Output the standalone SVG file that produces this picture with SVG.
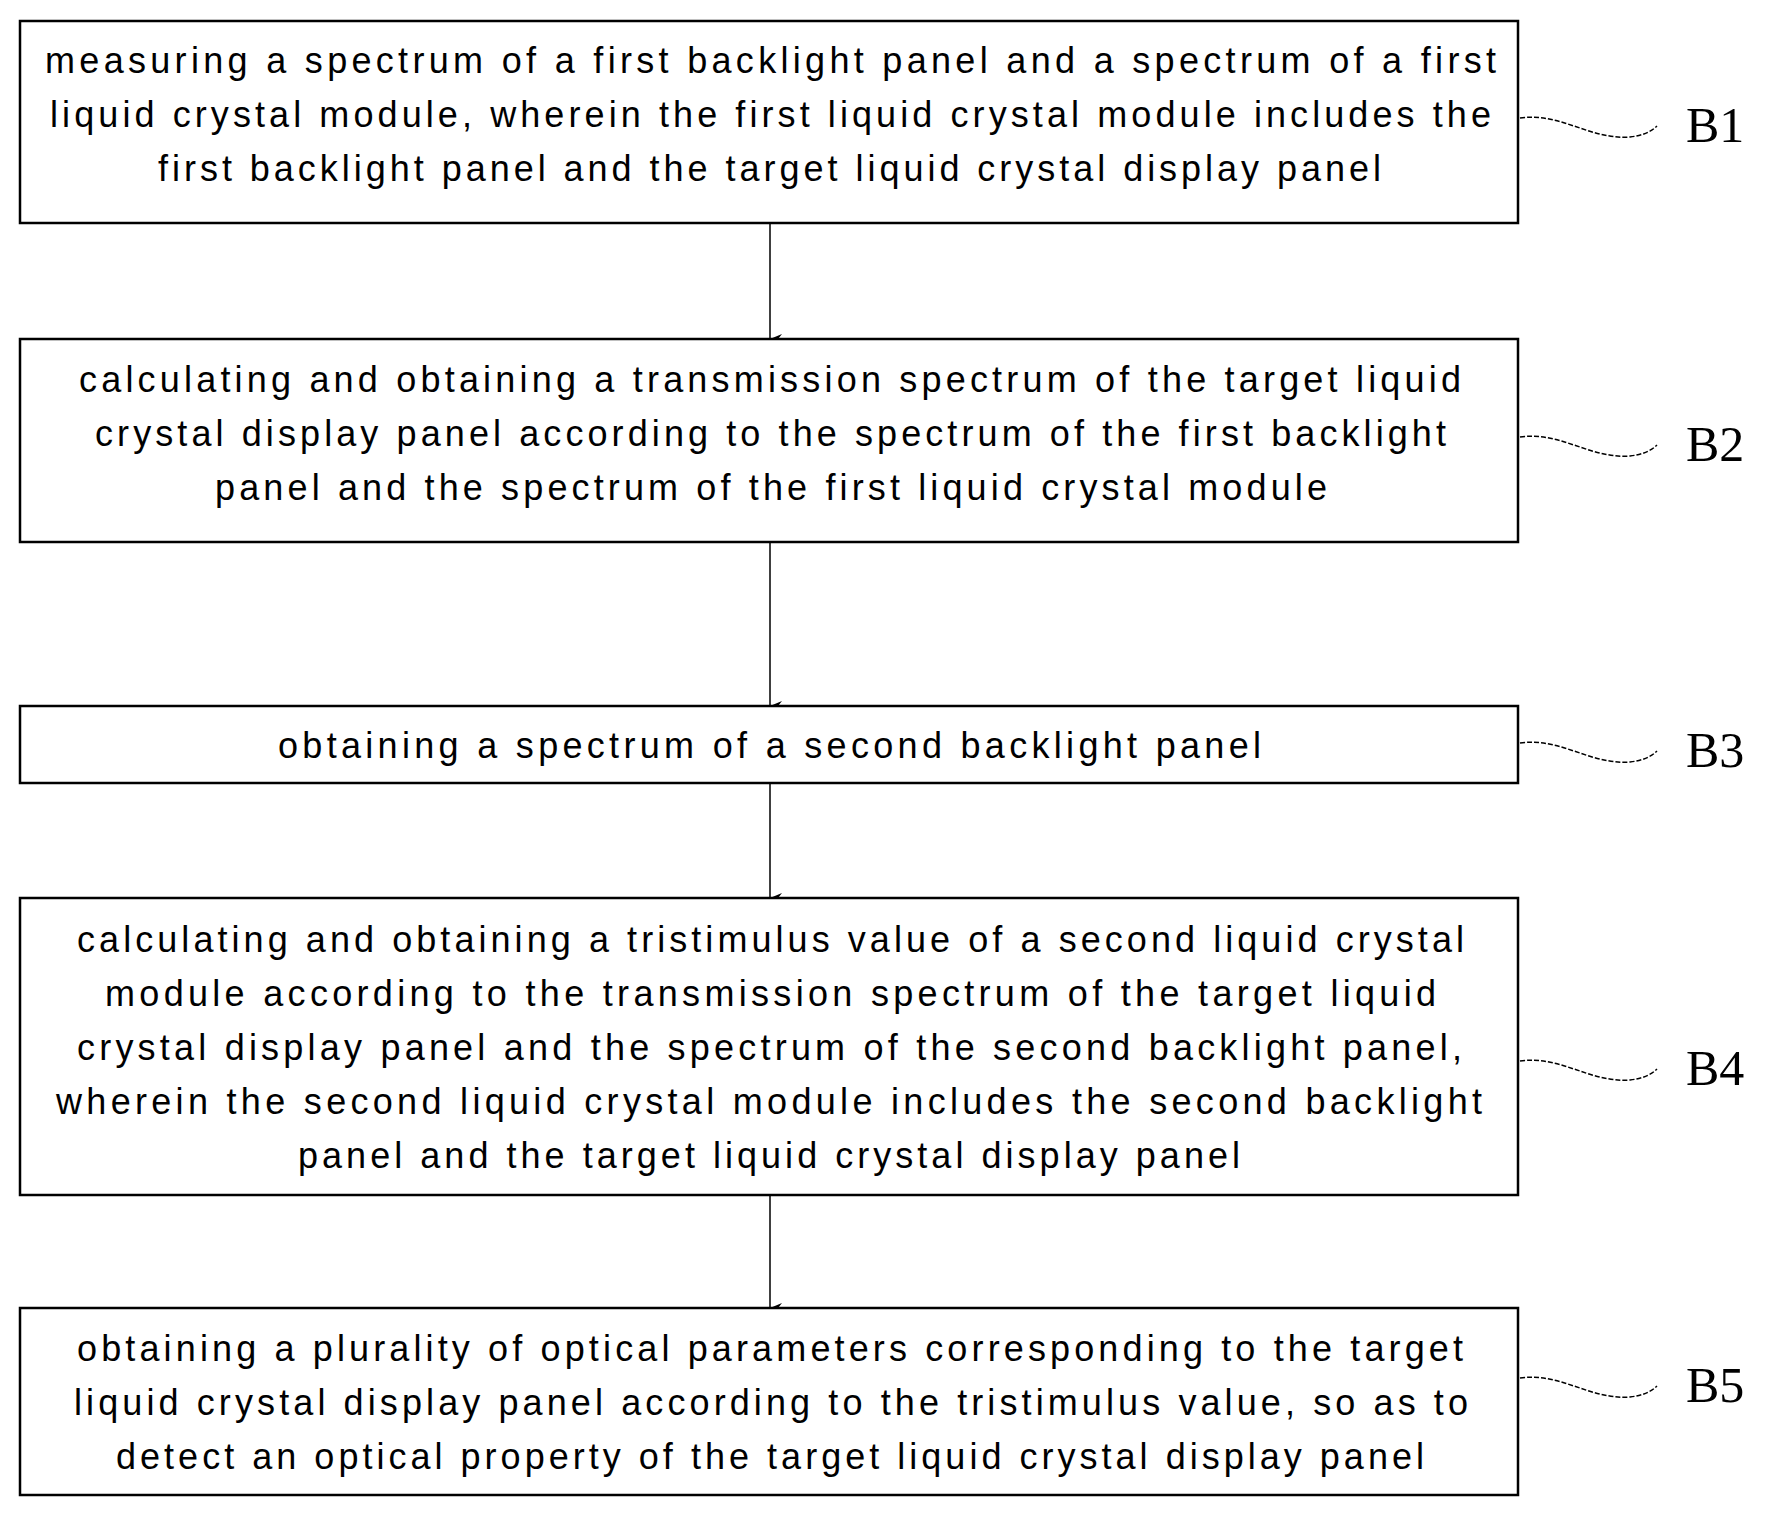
<svg xmlns="http://www.w3.org/2000/svg" width="1766" height="1516" viewBox="0 0 1766 1516">
<defs>
<marker id="ah" markerWidth="10" markerHeight="12" refX="5" refY="12" orient="auto-start-reverse" markerUnits="userSpaceOnUse" viewBox="0 0 10 12"><path d="M0,0 L5,4 L10,0 L5,12 Z" fill="#000"/></marker>
<style>
.box{fill:#fff;stroke:#000;stroke-width:2.5}
.t{font-family:"Liberation Sans",Arial,sans-serif;font-size:36px;fill:#000}
.lbl{font-family:"Liberation Serif","Times New Roman",serif;font-size:50px;fill:#000}
.sq{fill:none;stroke:#000;stroke-width:1.5;stroke-dasharray:5,2}
.c{stroke:#000;stroke-width:1.5;fill:none}
</style>
</defs>
<rect width="1766" height="1516" fill="#fff"/>
<g id="connectors">
<line class="c" x1="770" y1="223" x2="770" y2="339" marker-end="url(#ah)"/>
<line class="c" x1="770" y1="542" x2="770" y2="706" marker-end="url(#ah)"/>
<line class="c" x1="770" y1="783" x2="770" y2="898" marker-end="url(#ah)"/>
<line class="c" x1="770" y1="1195" x2="770" y2="1308" marker-end="url(#ah)"/>
</g>
<g id="B1">
<rect class="box" x="20" y="21" width="1498" height="202"/>
<text class="t" x="45" y="73" textLength="1451" lengthAdjust="spacing">measuring a spectrum of a first backlight panel and a spectrum of a first</text>
<text class="t" x="50" y="127" textLength="1441" lengthAdjust="spacing">liquid crystal module, wherein the first liquid crystal module includes the</text>
<text class="t" x="158" y="181" textLength="1223" lengthAdjust="spacing">first backlight panel and the target liquid crystal display panel</text>
<path class="sq" d="M1520,118 C1560,112 1590,140 1630,137 Q1648,135 1657,126"/>
<text class="lbl" x="1686" y="142">B1</text>
</g>
<g id="B2">
<rect class="box" x="20" y="339" width="1498" height="203"/>
<text class="t" x="79" y="392" textLength="1382" lengthAdjust="spacing">calculating and obtaining a transmission spectrum of the target liquid</text>
<text class="t" x="95" y="446" textLength="1351" lengthAdjust="spacing">crystal display panel according to the spectrum of the first backlight</text>
<text class="t" x="215" y="500" textLength="1112" lengthAdjust="spacing">panel and the spectrum of the first liquid crystal module</text>
<path class="sq" d="M1520,437 C1560,431 1590,459 1630,456 Q1648,454 1657,445"/>
<text class="lbl" x="1686" y="461">B2</text>
</g>
<g id="B3">
<rect class="box" x="20" y="706" width="1498" height="77"/>
<text class="t" x="278" y="758" textLength="983" lengthAdjust="spacing">obtaining a spectrum of a second backlight panel</text>
<path class="sq" d="M1520,743 C1560,737 1590,765 1630,762 Q1648,760 1657,751"/>
<text class="lbl" x="1686" y="767">B3</text>
</g>
<g id="B4">
<rect class="box" x="20" y="898" width="1498" height="297"/>
<text class="t" x="77" y="952" textLength="1387" lengthAdjust="spacing">calculating and obtaining a tristimulus value of a second liquid crystal</text>
<text class="t" x="105" y="1006" textLength="1331" lengthAdjust="spacing">module according to the transmission spectrum of the target liquid</text>
<text class="t" x="77" y="1060" textLength="1385" lengthAdjust="spacing">crystal display panel and the spectrum of the second backlight panel,</text>
<text class="t" x="56" y="1114" textLength="1426" lengthAdjust="spacing">wherein the second liquid crystal module includes the second backlight</text>
<text class="t" x="298" y="1168" textLength="942" lengthAdjust="spacing">panel and the target liquid crystal display panel</text>
<path class="sq" d="M1520,1061 C1560,1055 1590,1083 1630,1080 Q1648,1078 1657,1069"/>
<text class="lbl" x="1686" y="1085">B4</text>
</g>
<g id="B5">
<rect class="box" x="20" y="1308" width="1498" height="187"/>
<text class="t" x="77" y="1361" textLength="1386" lengthAdjust="spacing">obtaining a plurality of optical parameters corresponding to the target</text>
<text class="t" x="74" y="1415" textLength="1394" lengthAdjust="spacing">liquid crystal display panel according to the tristimulus value, so as to</text>
<text class="t" x="116" y="1469" textLength="1308" lengthAdjust="spacing">detect an optical property of the target liquid crystal display panel</text>
<path class="sq" d="M1520,1378 C1560,1372 1590,1400 1630,1397 Q1648,1395 1657,1386"/>
<text class="lbl" x="1686" y="1402">B5</text>
</g>
</svg>
